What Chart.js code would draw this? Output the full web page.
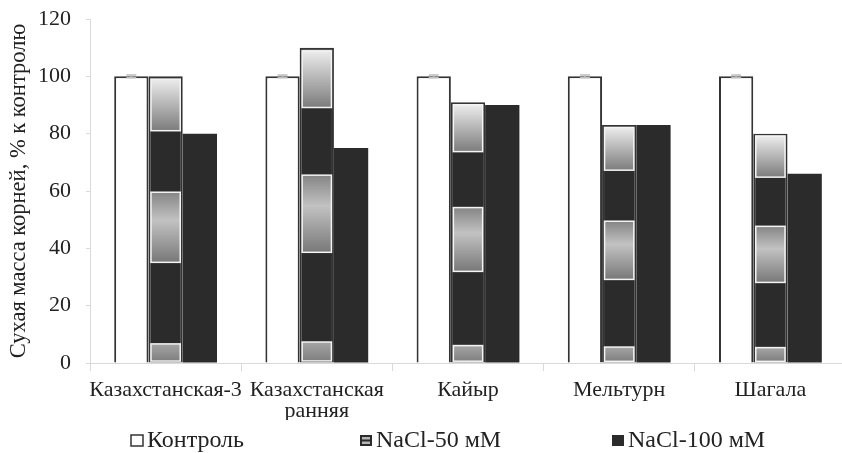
<!DOCTYPE html>
<html>
<head>
<meta charset="utf-8">
<script src="https://cdn.jsdelivr.net/npm/chart.js@4.4.1/dist/chart.umd.min.js"></script>
<style>
  html, body { margin: 0; padding: 0; background: #fff; overflow: hidden; }
  #wrap { width: 846px; height: 453px; }
</style>
</head>
<body>
<div id="wrap"><canvas id="rootChart"></canvas></div>
<script>
// Сухая масса корней, % к контролю
const categories = ['Казахстанская-3', ['Казахстанская', 'ранняя'], 'Кайыр', 'Мельтурн', 'Шагала'];
const control = [100, 100, 100, 100, 100];
const controlErr = [0.5, 0.5, 0.5, 0.5, 0.5];
const nacl50 = [100, 110, 91, 83, 80];
const nacl100 = [80, 75, 90, 83, 66];
const seriesNames = ['Контроль', 'NaCl-50 мМ', 'NaCl-100 мМ'];
const yTicks = [0, 20, 40, 60, 80, 100, 120];

const dark = '#2b2b2b';
const textColor = '#222';
const axisColor = '#d9d9d9';
const serif = "'Liberation Serif', 'Times New Roman', serif";

Chart.defaults.font.family = serif;
Chart.defaults.color = textColor;

// серые вставки внутри столбцов NaCl-50 (доли высоты столбца)
const insetBands = [[0.81, 0.99, 'top'], [0.35, 0.595, 'mid'], [0.005, 0.065, 'low']];

const bandPlugin = {
    id: 'bands',
    afterDatasetsDraw(chart) {
        const ctx = chart.ctx;
        chart.getDatasetMeta(1).data.forEach(bar => {
            const h = bar.base - bar.y;
            const x0 = bar.x - bar.width / 2 + 2.5;
            const w = bar.width - 5;
            insetBands.forEach(([a, b, kind]) => {
                const y1 = bar.base - h * b;
                const y2 = bar.base - h * a;
                const g = ctx.createLinearGradient(0, y1, 0, y2);
                if (kind === 'top') {
                    g.addColorStop(0, '#ececec'); g.addColorStop(1, '#7c7c7c');
                } else if (kind === 'mid') {
                    g.addColorStop(0, '#858585'); g.addColorStop(0.4, '#c2c2c2'); g.addColorStop(1, '#787878');
                } else {
                    g.addColorStop(0, '#a5a5a5'); g.addColorStop(1, '#7f7f7f');
                }
                ctx.save();
                ctx.fillStyle = g;
                ctx.fillRect(x0, y1, w, y2 - y1);
                ctx.strokeStyle = '#f4f4f4';
                ctx.lineWidth = 1.5;
                ctx.strokeRect(x0, y1, w, y2 - y1);
                ctx.restore();
            });
        });
    }
};

// планки погрешностей у контроля
const errPlugin = {
    id: 'errs',
    afterDatasetsDraw(chart) {
        const y = chart.scales.y, ctx = chart.ctx;
        chart.getDatasetMeta(0).data.forEach((bar, i) => {
            const top = y.getPixelForValue(control[i] + controlErr[i]);
            const bot = y.getPixelForValue(control[i] - controlErr[i]);
            ctx.save();
            ctx.strokeStyle = '#bdbdbd';
            ctx.lineWidth = 1.5;
            ctx.beginPath();
            ctx.moveTo(bar.x - 5, top); ctx.lineTo(bar.x + 5, top);
            ctx.moveTo(bar.x - 5, bot); ctx.lineTo(bar.x + 5, bot);
            ctx.moveTo(bar.x, top); ctx.lineTo(bar.x, bot);
            ctx.stroke();
            ctx.restore();
        });
    }
};

// легенда в одну строку, как в Excel
const legendLeft = [131, 360, 612];

function drawIcon(ctx, i, x, y, w, h) {
    if (i === 0) {
        ctx.fillStyle = '#fff';
        ctx.fillRect(x, y, w, h);
        ctx.strokeStyle = '#333';
        ctx.lineWidth = 1.5;
        ctx.strokeRect(x, y, w, h);
    } else if (i === 1) {
        ctx.fillStyle = dark;
        ctx.fillRect(x, y, w, h);
        ctx.fillStyle = '#b5b5b5';
        ctx.fillRect(x + 2, y + 2, w - 4, 2.5);
        ctx.fillRect(x + 2, y + h - 4.5, w - 4, 2.5);
    } else {
        ctx.fillStyle = dark;
        ctx.fillRect(x, y, w, h);
    }
}

const legendPlugin = {
    id: 'rowLegend',
    afterDraw(chart) {
        const ctx = chart.ctx;
        const yMid = chart.height - 12;
        ctx.save();
        ctx.font = '24px ' + serif;
        ctx.textBaseline = 'middle';
        seriesNames.forEach((name, i) => {
            const x = legendLeft[i];
            drawIcon(ctx, i, x, yMid - 6, 12, 11);
            ctx.fillStyle = textColor;
            ctx.fillText(name, x + 16, yMid);
        });
        ctx.restore();
    }
};

new Chart(document.getElementById('rootChart'), {
    type: 'bar',
    data: {
        labels: categories,
        datasets: [
            { label: seriesNames[0], data: control, backgroundColor: '#fff', borderColor: '#333', borderWidth: 2 },
            { label: seriesNames[1], data: nacl50, backgroundColor: dark, borderColor: '#333', borderWidth: 2 },
            { label: seriesNames[2], data: nacl100, backgroundColor: dark, borderWidth: 0 }
        ]
    },
    options: {
        responsive: true,
        maintainAspectRatio: false,
        animation: false,
        datasets: { bar: { categoryPercentage: 0.68, barPercentage: 1.0 } },
        layout: { padding: { top: 19, left: 0, right: 0, bottom: 33 } },
        plugins: {
            legend: { display: false },
            tooltip: { enabled: false }
        },
        scales: {
            x: {
                grid: { drawOnChartArea: false, tickLength: 8, color: axisColor },
                border: { color: axisColor },
                ticks: {
                    font: { size: 22, lineHeight: 0.95 },
                    padding: 9,
                    maxRotation: 0,
                    autoSkip: false
                },
                afterFit: s => { s.height = 57; s.paddingLeft = 0; s.paddingRight = 0; }
            },
            y: {
                min: 0,
                max: 120,
                afterBuildTicks: s => { s.ticks = yTicks.map(v => ({ value: v })); },
                grid: { drawOnChartArea: false, tickLength: 4, color: axisColor },
                border: { color: axisColor },
                ticks: { font: { size: 22 }, padding: 15 },
                title: {
                    display: true,
                    text: 'Сухая масса корней, % к контролю',
                    font: { size: 22.5 },
                    padding: { top: 6, bottom: 5 }
                },
                afterFit: s => { s.width = 90; s.paddingTop = 0; s.paddingBottom = 0; }
            }
        }
    },
    plugins: [bandPlugin, errPlugin, legendPlugin]
});
</script>
</body>
</html>
